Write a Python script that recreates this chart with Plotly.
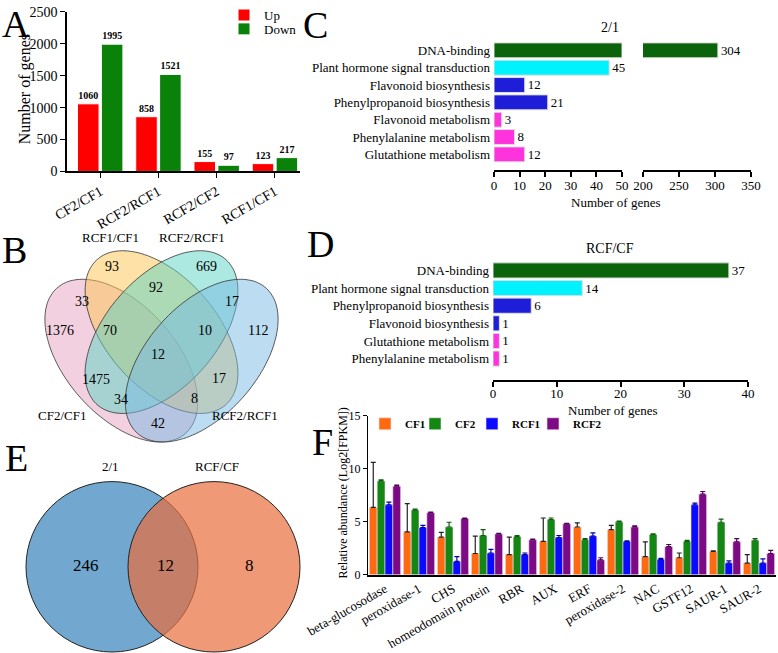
import numpy as np
import plotly.graph_objects as go

W, H = 778, 653
SERIF = "Liberation Serif, Times New Roman, serif"

# ---- panel A: DEG counts
a_comparisons = ["CF2/CF1", "RCF2/RCF1", "RCF2/CF2", "RCF1/CF1"]
a_up = [1060, 858, 155, 123]
a_down = [1995, 1521, 97, 217]

# ---- panel B: four-set venn
b_sets = ["RCF1/CF1", "RCF2/RCF1", "CF2/CF1", "RCF2/RCF1"]
b_counts = [93, 669, 92, 33, 17, 1376, 70, 10, 112, 12, 1475, 17, 34, 8, 42]

# ---- panel C: 2/1 annotation
c_terms = ["DNA-binding", "Plant hormone signal transduction", "Flavonoid biosynthesis",
           "Phenylpropanoid biosynthesis", "Flavonoid metabolism",
           "Phenylalanine metabolism", "Glutathione metabolism"]
c_counts = [304, 45, 12, 21, 3, 8, 12]

# ---- panel D: RCF/CF annotation
d_terms = ["DNA-binding", "Plant hormone signal transduction", "Phenylpropanoid biosynthesis",
           "Flavonoid biosynthesis", "Glutathione metabolism", "Phenylalanine metabolism"]
d_counts = [37, 14, 6, 1, 1, 1]

# ---- panel E: two-set venn
e_sets = ["2/1", "RCF/CF"]
e_counts = [246, 12, 8]

# ---- panel F: expression
f_genes = ["beta-glucosodase", "peroxidase-1", "CHS", "homeodomain protein", "RBR", "AUX",
           "ERF", "peroxidase-2", "NAC", "GSTF12", "SAUR-1", "SAUR-2"]
f_cf1 = [6.35, 4.05, 3.55, 2.0, 1.9, 3.15, 4.5, 4.25, 1.7, 1.6, 2.2, 1.1]
f_cf1_err = [4.25, 2.65, 0.45, 1.65, 1.65, 2.2, 0.4, 0.4, 1.4, 0.45, 0.05, 0.8]
f_cf2 = [8.85, 6.1, 4.5, 3.7, 3.6, 5.2, 3.3, 5.0, 3.8, 3.15, 4.95, 3.25]
f_cf2_err = [0.1, 0.1, 0.45, 0.55, 0.1, 0.15, 0.1, 0.05, 0.05, 0.1, 0.3, 0.15]
f_rcf1 = [6.6, 4.45, 1.25, 2.05, 1.9, 3.5, 3.65, 3.15, 1.45, 6.6, 1.1, 1.1]
f_rcf1_err = [0.25, 0.2, 0.45, 0.35, 0.15, 0.2, 0.3, 0.05, 0.1, 0.15, 0.2, 0.4]
f_rcf2 = [8.35, 5.85, 5.3, 3.85, 3.3, 4.8, 1.4, 4.5, 2.65, 7.6, 3.1, 2.0]
f_rcf2_err = [0.1, 0.05, 0.05, 0.05, 0.05, 0.05, 0.2, 0.1, 0.2, 0.25, 0.3, 0.3]

TERM_COLORS = {
    "DNA-binding": "#0b640b",
    "Plant hormone signal transduction": "#00f2ff",
    "Flavonoid biosynthesis": "#1e1ed8",
    "Phenylpropanoid biosynthesis": "#1e1ed8",
    "Flavonoid metabolism": "#ff33dd",
    "Phenylalanine metabolism": "#ff33dd",
    "Glutathione metabolism": "#ff33dd",
}
C_LEFT_MAX = 50   # end of the first segment of the broken axis
C_RIGHT_MIN = 200


def dx(p0, p1):
    return [p0 / W, p1 / W]


def dy(top, bottom):
    return [1 - bottom / H, 1 - top / H]


fig = go.Figure()

# A, each series gets its own legend box (Up above Down, tight like the original)
for name, vals, col, off, leg in [("Up", a_up, "#ff0000", -0.39, "legend"),
                                  ("Down", a_down, "#0a820a", 0.02, "legend6")]:
    fig.add_trace(go.Bar(x=a_comparisons, y=vals, name=name, marker_color=col,
                         marker_line=dict(color="white", width=1), offset=off, width=0.37,
                         text=vals, textposition="outside", cliponaxis=False,
                         textfont=dict(size=10, family=SERIF, weight="bold", color="black"),
                         xaxis="x", yaxis="y", legend=leg))

# C (broken axis: bars longer than the first segment stop at its end)
c_left = [min(v, C_LEFT_MAX) for v in c_counts]
c_text_left = ["" if v > C_LEFT_MAX else str(v) for v in c_counts]
fig.add_trace(go.Bar(y=c_terms, x=c_left, orientation="h", width=0.86,
                     marker_color=[TERM_COLORS[t] for t in c_terms],
                     marker_line=dict(color="#dddddd", width=1),
                     text=c_text_left, textposition="outside", cliponaxis=False,
                     textfont=dict(size=13, family=SERIF, color="black"),
                     xaxis="x2", yaxis="y2", showlegend=False))
c_right = [v if v > C_RIGHT_MIN else None for v in c_counts]
fig.add_trace(go.Bar(y=c_terms, x=c_right, orientation="h", width=0.86,
                     marker_color=[TERM_COLORS[t] for t in c_terms],
                     marker_line=dict(color="#dddddd", width=1),
                     text=[str(v) if v else "" for v in c_right], textposition="outside",
                     cliponaxis=False, textfont=dict(size=13, family=SERIF, color="black"),
                     xaxis="x3", yaxis="y3", showlegend=False))

# D
fig.add_trace(go.Bar(y=d_terms, x=d_counts, orientation="h", width=0.86,
                     marker_color=[TERM_COLORS[t] for t in d_terms],
                     marker_line=dict(color="#dddddd", width=1),
                     text=d_counts, textposition="outside", cliponaxis=False,
                     textfont=dict(size=13, family=SERIF, color="black"),
                     xaxis="x4", yaxis="y4", showlegend=False))

# F, one little legend per series so the entries sit where the original has them
f_series = [("CF1", f_cf1, f_cf1_err, "#ff6a10", "#222222"),
            ("CF2", f_cf2, f_cf2_err, "#138613", "#0c5c0c"),
            ("RCF1", f_rcf1, f_rcf1_err, "#0a0aff", "#0000aa"),
            ("RCF2", f_rcf2, f_rcf2_err, "#7d0a85", "#4d0055")]
for i, (name, vals, err, col, ecol) in enumerate(f_series):
    fig.add_trace(go.Bar(x=f_genes, y=vals, name=name, marker_color=col,
                         marker_line=dict(color="#f4e4ee", width=0.6),
                         offset=-0.46 + i * 0.23, width=0.23,
                         error_y=dict(type="data", array=err, arrayminus=[0] * len(err),
                                      symmetric=False, color=ecol, thickness=1.2, width=2.5),
                         xaxis="x5", yaxis="y5", legend=f"legend{i + 2}"))

ax_font = dict(family=SERIF, size=13, color="black")
common = dict(showgrid=False, zeroline=False, automargin=False)
layout = dict(
    template="none",
    width=W, height=H, margin=dict(l=0, r=0, t=0, b=0, pad=0),
    paper_bgcolor="white", plot_bgcolor="rgba(0,0,0,0)", barmode="overlay",
    font=dict(family=SERIF, color="black"),
    xaxis=dict(domain=dx(67, 300), anchor="y", range=[-0.57, 3.43], showline=True,
               linecolor="black", linewidth=1.5, ticks="outside", ticklen=5, tickcolor="black",
               tickangle=-30, tickfont=dict(family=SERIF, size=14), **common),
    yaxis=dict(domain=dy(6, 167), anchor="x", range=[0, 2500], dtick=500, showline=True,
               linecolor="black", linewidth=1.5, ticks="outside", ticklen=5, tickcolor="black",
               tickfont=dict(family=SERIF, size=14), **common),
    xaxis2=dict(domain=dx(494, 622), anchor="y2", range=[0, C_LEFT_MAX], dtick=10,
                showline=True, linecolor="black", linewidth=2, ticks="outside", ticklen=5,
                tickcolor="black", tickwidth=1.5, tickfont=ax_font, ticklabelstandoff=-3,
                **common),
    yaxis2=dict(domain=dy(36, 166), anchor="x2", range=[6.93, -0.5], showline=False,
                ticks="", tickfont=ax_font, ticklabelstandoff=3, **common),
    xaxis3=dict(domain=dx(643, 751), anchor="y3", range=[C_RIGHT_MIN, 350], dtick=50,
                tick0=200, showline=True, linecolor="black", linewidth=2, ticks="outside",
                ticklen=5, tickcolor="black", tickwidth=1.5, tickfont=ax_font,
                ticklabelstandoff=-3, **common),
    yaxis3=dict(domain=dy(36, 166), anchor="x3", matches="y2", range=[6.93, -0.5],
                showticklabels=False, showline=False, ticks="", **common),
    xaxis4=dict(domain=dx(493, 748), anchor="y4", range=[0, 40], dtick=10, showline=True,
                linecolor="black", linewidth=2, ticks="outside", ticklen=5, tickcolor="black",
                tickwidth=1.5, tickfont=ax_font, ticklabelstandoff=-4, **common),
    yaxis4=dict(domain=dy(258, 377), anchor="x4", range=[6.19, -0.5], showline=False,
                ticks="", tickfont=ax_font, ticklabelstandoff=3, **common),
    xaxis5=dict(domain=dx(368, 776), anchor="y5", range=[-0.5, 11.5], showline=True,
                linecolor="black", linewidth=1.5, ticks="", tickangle=-30,
                tickfont=dict(family=SERIF, size=13), **common),
    yaxis5=dict(domain=dy(413.5, 574), anchor="x5", range=[0, 15], dtick=5, showline=True,
                linecolor="black", linewidth=1, ticks="outside", ticklen=4, tickcolor="black",
                tickfont=dict(family=SERIF, size=12), **common),
    xaxis6=dict(domain=[0, 1], anchor="y6", range=[0, W], visible=False, fixedrange=True,
                **common),
    yaxis6=dict(domain=[0, 1], anchor="x6", range=[H, 0], visible=False, fixedrange=True,
                **common),
)
for key, ly in [("legend", -6), ("legend6", 8)]:
    layout[key] = dict(x=224 / W, y=1 - ly / H, xanchor="left", yanchor="top",
                       bgcolor="rgba(0,0,0,0)", font=dict(family=SERIF, size=13),
                       itemwidth=30)
for i, lx in enumerate([365, 415, 472, 533]):
    layout[f"legend{i + 2}"] = dict(x=lx / W, y=1 - 407 / H, xanchor="left", yanchor="top",
                                    orientation="h", bgcolor="rgba(0,0,0,0)", itemwidth=30,
                                    font=dict(family=SERIF, size=11, weight="bold"))
fig.update_layout(**layout)

# empty trace so the pixel canvas axes exist
fig.add_trace(go.Scatter(x=[None], y=[None], xaxis="x6", yaxis="y6", showlegend=False,
                         hoverinfo="skip"))


def ellipse_path(cu, cv, ang):
    t = np.linspace(0, 2 * np.pi, 160)
    a, b = 0.35, 0.2
    th = np.radians(ang)
    u = cu + a * np.cos(t) * np.cos(th) - b * np.sin(t) * np.sin(th)
    v = cv + a * np.cos(t) * np.sin(th) + b * np.sin(t) * np.cos(th)
    px = 161.5 + (u - 0.5) * 268
    py = 440 - (v - 0.185) * 288
    return "M " + " L ".join(f"{x:.1f},{y:.1f}" for x, y in zip(px, py)) + " Z"


shapes = []
venn4 = [(0.35, 0.47, 135, "rgba(228,150,185,0.45)"),
         (0.5, 0.57, 135, "rgba(252,196,80,0.5)"),
         (0.5, 0.57, 45, "rgba(90,212,195,0.5)"),
         (0.65, 0.47, 45, "rgba(120,185,228,0.5)")]
for cu, cv, ang, col in venn4:
    shapes.append(dict(type="path", path=ellipse_path(cu, cv, ang), xref="x6", yref="y6",
                       fillcolor=col, line=dict(color="#333333", width=0.8)))

shapes.append(dict(type="circle", xref="x6", yref="y6", x0=112 - 86, x1=112 + 86,
                   y0=566 - 86, y1=566 + 86, fillcolor="rgb(114,168,208)",
                   line=dict(color="#222222", width=1)))
shapes.append(dict(type="circle", xref="x6", yref="y6", x0=214 - 86, x1=214 + 86,
                   y0=566 - 86, y1=566 + 86, fillcolor="rgba(232,110,60,0.7)",
                   line=dict(color="#222222", width=1)))
fig.update_layout(shapes=shapes)

ann = []


def txt(x, y, s, size=13, **kw):
    ann.append(dict(x=x, y=y, xref="x6", yref="y6", text=s, showarrow=False,
                    font=dict(family=SERIF, size=size, color="black"), **kw))


# panel letters
for letter, x, y in [("A", 16, 18), ("B", 14, 246), ("C", 315, 19), ("D", 320, 240),
                     ("E", 16, 456), ("F", 322, 440)]:
    txt(x, y, letter, size=38)

# axis titles / panel titles
txt(25, 84, "Number of genes", size=16, textangle=-90)
txt(610, 22, "2/1", size=14)
txt(616, 198, "Number of genes", size=13)
txt(610, 245, "RCF/CF", size=14)
txt(613, 408, "Number of genes", size=13)
txt(343, 492, "Relative abundance (Log2[FPKM])", size=12, textangle=-90)

# venn B labels
b_label_xy = [(110, 234), (192, 234), (62, 413), (245, 413)]
for s, (x, y) in zip(b_sets, b_label_xy):
    txt(x, y, s, size=13)
b_count_xy = [(112, 263), (206, 263), (156, 284), (82, 298), (232, 298), (60, 328),
              (110, 328), (205, 328), (258, 328), (158, 352), (96, 377), (219, 376),
              (121, 397), (194, 396), (158, 421)]
for n, (x, y) in zip(b_counts, b_count_xy):
    txt(x, y, str(n), size=14)

# venn E labels
txt(110, 465, e_sets[0], size=13)
txt(217, 465, e_sets[1], size=13)
for n, x in zip(e_counts, [86, 165, 249]):
    txt(x, 565, str(n), size=17)

fig.update_layout(annotations=ann)
fig.write_html("out.html", config={"displayModeBar": False},
               post_script="document.body.style.margin='0';")
